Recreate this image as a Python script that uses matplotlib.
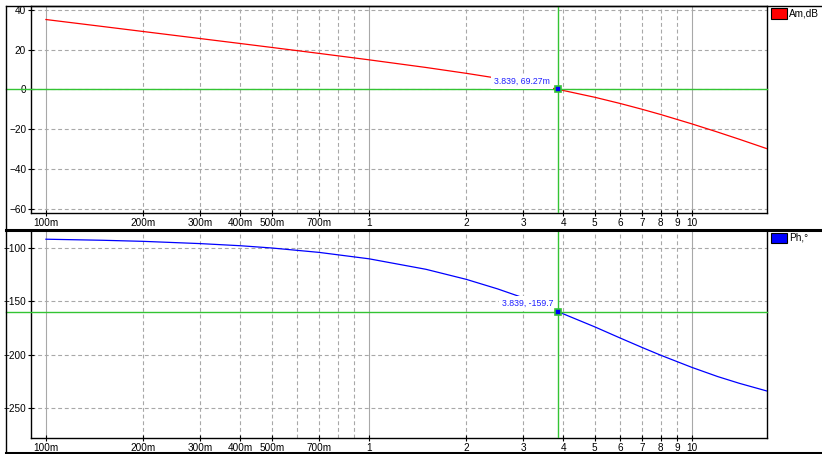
import matplotlib
matplotlib.use("Agg")
import matplotlib.pyplot as plt
from matplotlib.lines import Line2D
from matplotlib.patches import Rectangle

# frequency points
freq = [0.1, 0.15, 0.2, 0.3, 0.4, 0.5, 0.7, 1, 1.5, 2, 2.5, 3, 3.839,
        5, 6, 7, 8, 10, 12, 14, 17]
amp_db = [35.19, 31.67, 29.16, 25.62, 23.11, 21.14, 18.15, 14.91, 11.06, 8.11,
          5.63, 3.42, 0.07, -3.95, -7.10, -9.98, -12.63, -17.37, -21.47, -25.07, -29.75]
phase = [-92.1, -93.1, -94.1, -96.2, -98.2, -100.3, -104.4, -110.4, -120.2, -129.6,
         -138.5, -146.8, -159.7, -174.0, -184.5, -193.2, -200.5, -211.9, -220.4, -226.7, -233.8]

cursor_x = 3.839
cursor_amp = 0.06927
cursor_ph = -159.7

xtick_vals = [0.1, 0.2, 0.3, 0.4, 0.5, 0.7, 1, 2, 3, 4, 5, 6, 7, 8, 9, 10]
xtick_labels = ["100m", "200m", "300m", "400m", "500m", "700m", "1", "2", "3",
                "4", "5", "6", "7", "8", "9", "10"]
amp_ticks = [40, 20, 0, -20, -40, -60]
ph_ticks = [-100, -150, -200, -250]

W, H = 822, 454
plt.rcParams['font.family'] = ['Liberation Sans', 'DejaVu Sans']
FS = 7.2
GREEN = '#33c433'
GRID = '#a8a8a8'

fig = plt.figure(figsize=(W / 100, H / 100), dpi=100)


def fx(px):
    return px / W


def fy(py):
    return 1 - py / H


ax1 = fig.add_axes([fx(31), fy(213), (767 - 31) / W, (213 - 6) / H])
ax2 = fig.add_axes([fx(31), fy(438), (767 - 31) / W, (438 - 230) / H])

minor = [m * d for d in (0.1, 1) for m in range(2, 10)]

for ax, y, c, ticks, ylim, cy, label, dx in [
        (ax1, amp_db, 'red', amp_ticks, (-62.2, 42), cursor_amp, "3.839, 69.27m", -5.5),
        (ax2, phase, 'blue', ph_ticks, (-277.8, -83.5), cursor_ph, "3.839, -159.7", -3)]:
    ax.set_xscale('log')
    ax.set_xlim(0.0899, 17.06)
    ax.set_ylim(*ylim)
    for v in (0.1, 1, 10):
        ax.axvline(v, color=GRID, lw=0.8, zorder=1)
    for v in minor:
        ax.axvline(v, color=GRID, lw=0.8, ls=(0, (3.5, 2.5)), zorder=1)
    for t in ticks:
        ax.axhline(t, color=GRID, lw=0.8, ls=(0, (3.5, 2.5)), zorder=1)
    ax.plot(freq, y, color=c, lw=0.9, zorder=3)
    # cursor
    ax.axvline(cursor_x, color=GREEN, lw=1.0, zorder=4)
    ax.axhline(cy, xmin=(6 - 31) / 736, xmax=1, color=GREEN, lw=1.0,
               zorder=4, clip_on=False)
    ax.plot([cursor_x], [cy], marker='s', ms=5, mfc='#0000ff', mec=GREEN,
            mew=1.2, zorder=6)
    ax.annotate(label, (cursor_x, cy), xytext=(dx, 2.5), textcoords='offset points',
                ha='right', va='bottom', color='#2020ff', fontsize=6.3, zorder=5,
                bbox=dict(boxstyle='square,pad=0.35', fc='white', ec='none'))
    ax.set_xticks(xtick_vals)
    ax.set_xticklabels(xtick_labels)
    ax.xaxis.set_minor_locator(matplotlib.ticker.NullLocator())
    ax.set_yticks(ticks)
    ax.tick_params(direction='inout', length=5, width=0.8, labelsize=FS, pad=1)
    for s in ax.spines.values():
        s.set_linewidth(1.0)

ax2.spines['top'].set_visible(False)

# outer frame lines
frame = [((6, 822), (6, 6), 1.0),
         ((6, 6), (6, 454), 1.0),
         ((6, 822), (229.5, 229.5), 2.2),
         ((6, 822), (453, 453), 2.2)]
for xs, ys, lw in frame:
    fig.add_artist(Line2D([fx(xs[0]), fx(xs[1])], [fy(ys[0]), fy(ys[1])],
                          transform=fig.transFigure, color='black', lw=lw))

# legend boxes
for top, color, text in [(8, 'red', 'Am,dB'), (232.5, 'blue', 'Ph,\u00b0')]:
    fig.add_artist(Rectangle((fx(771), fy(top + 10.5)), 16 / W, 10.5 / H,
                             transform=fig.transFigure, fc=color, ec='black', lw=0.8))
    fig.text(fx(789), fy(top + 5), text, fontsize=FS, va='center', ha='left')

fig.savefig('out.png', dpi=100)
